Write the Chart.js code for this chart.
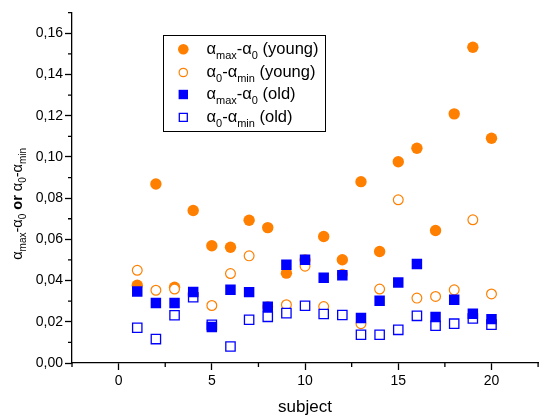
<!DOCTYPE html>
<html>
<head>
<meta charset="utf-8">
<script src="https://cdn.jsdelivr.net/npm/chart.js@4.4.1/dist/chart.umd.min.js"></script>
<style>
  html, body { margin: 0; padding: 0; background: #fff; }
  #wrap { width: 546px; height: 416px; }
</style>
</head>
<body>
<div id="wrap"><canvas id="c" width="546" height="416"></canvas></div>
<script>
// Subjects and the four measured series
const subjects = [1, 2, 3, 4, 5, 6, 7, 8, 9, 10, 11, 12, 13, 14, 15, 16, 17, 18, 19, 20];
const youngMax = [0.0377, 0.0869, 0.0368, 0.0740, 0.0569, 0.0562, 0.0693, 0.0657, 0.0436, 0.0500,
                  0.0614, 0.0501, 0.0880, 0.0541, 0.0977, 0.1042, 0.0643, 0.1209, 0.1532, 0.1091];
const youngMin = [0.0450, 0.0353, 0.0359, 0.0333, 0.0279, 0.0434, 0.0520, 0.0273, 0.0283, 0.0470,
                  0.0274, 0.0431, 0.0191, 0.0359, 0.0792, 0.0315, 0.0323, 0.0355, 0.0695, 0.0335];
const oldMax   = [0.0347, 0.0291, 0.0291, 0.0345, 0.0175, 0.0355, 0.0344, 0.0273, 0.0477, 0.0501,
                  0.0414, 0.0426, 0.0218, 0.0302, 0.0391, 0.0480, 0.0223, 0.0307, 0.0239, 0.0213];
const oldMin   = [0.0171, 0.0116, 0.0232, 0.0319, 0.0185, 0.0080, 0.0210, 0.0224, 0.0242, 0.0278,
                  0.0238, 0.0233, 0.0137, 0.0137, 0.0161, 0.0229, 0.0181, 0.0191, 0.0216, 0.0186];

// Axis ranges and tick spacing
const xRange = [-2.5, 22.5];
const yRange = [0, 0.17];
const xStep = 2.5, xLabelEvery = 5;
const yStep = 0.01;

const ORANGE = '#ff8000';
const BLUE = '#0000ff';
const FONT = '"Liberation Sans", Arial, Helvetica, sans-serif';

// Legend entries: rich text parts, [text, isSubscript]
const legendItems = [
  { marker: 'fcircle', color: ORANGE, parts: [['α', 0], ['max', 1], ['-α', 0], ['0', 1], [' (young)', 0]] },
  { marker: 'ocircle', color: ORANGE, parts: [['α', 0], ['0', 1], ['-α', 0], ['min', 1], [' (young)', 0]] },
  { marker: 'fsquare', color: BLUE,   parts: [['α', 0], ['max', 1], ['-α', 0], ['0', 1], [' (old)', 0]] },
  { marker: 'osquare', color: BLUE,   parts: [['α', 0], ['0', 1], ['-α', 0], ['min', 1], [' (old)', 0]] }
];
const yTitleParts = [['α', 0], ['max', 1], ['-α', 0], ['0', 1], [' or ', 2], ['α', 0], ['0', 1], ['-α', 0], ['min', 1]];

const toPoints = ys => subjects.map((s, i) => ({ x: s, y: ys[i] }));
const isMajorX = v => Math.abs(v % xLabelEvery) < 1e-6;
const isMajorY = v => Math.round(v * 100) % 2 === 0;

// Draws a line of text with subscripts; returns its width
function richWidth(ctx, parts, mainPx, subPx) {
  let w = 0;
  parts.forEach(([t, s]) => {
    ctx.font = (s === 2 ? 'bold ' : '') + (s === 1 ? subPx : mainPx) + 'px ' + FONT;
    w += ctx.measureText(t).width;
  });
  return w;
}
function drawRich(ctx, parts, x, y, mainPx, subPx, subDy) {
  parts.forEach(([t, s]) => {
    ctx.font = (s === 2 ? 'bold ' : '') + (s === 1 ? subPx : mainPx) + 'px ' + FONT;
    ctx.fillText(t, x, s === 1 ? y + subDy : y);
    x += ctx.measureText(t).width;
  });
}

const decorations = {
  id: 'decorations',
  afterDraw(chart) {
    const { ctx, chartArea } = chart;
    const xs = chart.scales.x, ys = chart.scales.y;
    ctx.save();

    // short minor ticks
    ctx.strokeStyle = '#000';
    ctx.lineWidth = 1.3;
    ctx.beginPath();
    xs.ticks.forEach(t => {
      if (!isMajorX(t.value)) {
        const px = xs.getPixelForValue(t.value);
        ctx.moveTo(px, chartArea.bottom);
        ctx.lineTo(px, chartArea.bottom + 4);
      }
    });
    ys.ticks.forEach(t => {
      if (!isMajorY(t.value)) {
        const py = ys.getPixelForValue(t.value);
        ctx.moveTo(chartArea.left, py);
        ctx.lineTo(chartArea.left - 4, py);
      }
    });
    ctx.stroke();

    // y-axis title with subscripts
    ctx.fillStyle = '#000';
    ctx.textBaseline = 'alphabetic';
    ctx.textAlign = 'left';
    const tw = richWidth(ctx, yTitleParts, 14.5, 10);
    ctx.save();
    ctx.translate(21.5, (chartArea.top + chartArea.bottom) / 2 + 16);
    ctx.rotate(-Math.PI / 2);
    drawRich(ctx, yTitleParts, -tw / 2, 0, 14.5, 10, 4);
    ctx.restore();

    // legend box
    const bx = 163.5, by = 35.5, bw = 162, bh = 96;
    ctx.fillStyle = '#fff';
    ctx.fillRect(bx, by, bw, bh);
    ctx.strokeStyle = '#000';
    ctx.lineWidth = 1;
    ctx.strokeRect(bx, by, bw, bh);

    const rows = [49.3, 72.5, 94.5, 117.3];
    legendItems.forEach((it, i) => {
      const cx = 183.3, cy = rows[i];
      ctx.beginPath();
      if (it.marker === 'fcircle') {
        ctx.arc(cx, cy, 5.3, 0, Math.PI * 2);
        ctx.fillStyle = it.color; ctx.fill();
      } else if (it.marker === 'ocircle') {
        ctx.arc(cx, cy, 4.2, 0, Math.PI * 2);
        ctx.fillStyle = '#fff'; ctx.fill();
        ctx.strokeStyle = it.color; ctx.lineWidth = 1.2; ctx.stroke();
      } else if (it.marker === 'fsquare') {
        ctx.fillStyle = it.color; ctx.fillRect(cx - 4.7, cy - 4.7, 9.4, 9.4);
      } else {
        ctx.rect(cx - 4, cy - 4, 8, 8);
        ctx.fillStyle = '#fff'; ctx.fill();
        ctx.strokeStyle = it.color; ctx.lineWidth = 1.3; ctx.stroke();
      }
      ctx.fillStyle = '#000';
      drawRich(ctx, it.parts, 206.5, cy + 4.2, 16.5, 11, 5);
    });
    ctx.restore();
  }
};

const tickFont = { family: FONT, size: 14 };

new Chart(document.getElementById('c'), {
  type: 'scatter',
  data: {
    datasets: [
      { label: 'young max', data: toPoints(youngMax), order: 4,
        pointStyle: 'circle', pointRadius: 5.7, pointHoverRadius: 5.7,
        backgroundColor: ORANGE, borderColor: ORANGE, borderWidth: 0 },
      { label: 'young min', data: toPoints(youngMin), order: 3,
        pointStyle: 'circle', pointRadius: 4.9, pointHoverRadius: 4.9,
        backgroundColor: '#fff', borderColor: ORANGE, borderWidth: 1.2 },
      { label: 'old max', data: toPoints(oldMax), order: 1,
        pointStyle: 'rect', pointRadius: 7.4, pointHoverRadius: 7.4,
        backgroundColor: BLUE, borderColor: BLUE, borderWidth: 0 },
      { label: 'old min', data: toPoints(oldMin), order: 2,
        pointStyle: 'rect', pointRadius: 6.6, pointHoverRadius: 6.6,
        backgroundColor: '#fff', borderColor: BLUE, borderWidth: 1.3 }
    ]
  },
  options: {
    responsive: false,
    animation: false,
    devicePixelRatio: 1,
    layout: { padding: { top: 12.7, right: 0, bottom: 0, left: 0 } },
    plugins: { legend: { display: false }, tooltip: { enabled: false } },
    scales: {
      x: {
        type: 'linear', position: 'bottom',
        min: xRange[0], max: xRange[1],
        afterFit: s => { s.height = 53; },
        ticks: {
          stepSize: xStep, autoSkip: false, maxRotation: 0, padding: 3,
          color: '#000', font: tickFont,
          callback: v => isMajorX(v) ? String(v) : ''
        },
        grid: {
          drawOnChartArea: false, drawTicks: true, tickLength: 7, tickWidth: 1.3,
          tickColor: c => (c.tick && isMajorX(c.tick.value)) ? '#000' : 'rgba(0,0,0,0)'
        },
        border: { display: true, color: '#000', width: 1.3 },
        title: {
          display: true, text: 'subject', color: '#000',
          font: { family: FONT, size: 17, lineHeight: 1 },
          padding: { top: 0, bottom: 0 }
        }
      },
      y: {
        type: 'linear', position: 'left',
        min: yRange[0], max: yRange[1],
        afterFit: s => { s.width = 72; },
        ticks: {
          stepSize: yStep, autoSkip: false, padding: 2,
          color: '#000', font: tickFont,
          callback: v => isMajorY(v) ? v.toFixed(2).replace('.', ',') : ''
        },
        grid: {
          drawOnChartArea: false, drawTicks: true, tickLength: 7, tickWidth: 1.3,
          tickColor: c => (c.tick && isMajorY(c.tick.value)) ? '#000' : 'rgba(0,0,0,0)'
        },
        border: { display: true, color: '#000', width: 1.3 }
      }
    }
  },
  plugins: [decorations]
});
</script>
</body>
</html>
